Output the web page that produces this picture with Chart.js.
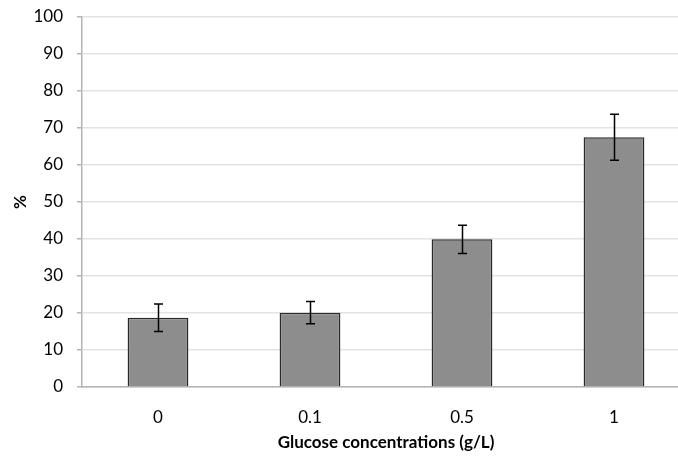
<!DOCTYPE html>
<html>
<head>
<meta charset="utf-8">
<script src="https://cdn.jsdelivr.net/npm/chart.js@4"></script>
<style>
  html, body { margin: 0; padding: 0; background: #fff; overflow: hidden; }
  canvas { display: block; }
</style>
</head>
<body>
<canvas id="chart" width="692" height="459"></canvas>
<script>
const categories = ['0', '0.1', '0.5', '1'];
const percent = [18.7, 20.1, 39.9, 67.5];
const errors = [3.7, 3.0, 3.8, 6.2];

// whiskers drawn on top of each bar, +/- error
const errorBars = {
    id: 'errorBars',
    afterDatasetsDraw(chart){
        const ctx = chart.ctx
        const yScale = chart.scales.y
        const meta = chart.getDatasetMeta(0)
        ctx.save()
        ctx.strokeStyle = '#000'
        ctx.lineWidth = 1.5
        meta.data.forEach((bar, i) => {
            const x = Math.round(bar.x) + 0.5
            const top = yScale.getPixelForValue(percent[i] + errors[i])
            const bottom = yScale.getPixelForValue(percent[i] - errors[i])
            ctx.beginPath()
            ctx.moveTo(x, top); ctx.lineTo(x, bottom)
            ctx.moveTo(x - 4.5, top); ctx.lineTo(x + 4.5, top)
            ctx.moveTo(x - 4.5, bottom); ctx.lineTo(x + 4.5, bottom)
            ctx.stroke()
        })
        ctx.restore()
    }
}

Chart.defaults.font.family = 'Lato, "Open Sans", sans-serif';
Chart.defaults.color = '#000';

new Chart('chart', {
    type: 'bar',
    data: {
        labels: categories,
        datasets: [{
            data: percent,
            backgroundColor: '#8d8d8d',
            borderColor: '#2a2a2a',
            borderWidth: 1.5,
            barPercentage: 0.4,
            categoryPercentage: 1
        }]
    },
    options: {
        responsive: false,
        animation: false,
        layout: { padding: { top: 17, right: 2, bottom: 6, left: 0 } },
        plugins: {
            legend: { display: false },
            tooltip: { enabled: false }
        },
        scales: {
            x: {
                grid: { display: false, drawTicks: false },
                border: { color: '#b3b3b3', width: 1.5 },
                ticks: { font: { size: 17 }, padding: 20 },
                title: {
                    display: true,
                    text: 'Glucose concentrations (g/L)',
                    font: { size: 17, weight: 'bold' },
                    padding: { top: 6, bottom: 0 }
                },
                afterFit(scale){ scale.height = 66 }
            },
            y: {
                min: 0,
                max: 100,
                ticks: { stepSize: 10, font: { size: 17 }, padding: 14 },
                grid: { color: '#e3e3e3', lineWidth: 1.5, tickLength: 5, tickColor: '#b3b3b3' },
                border: { color: '#b3b3b3', width: 1.5 },
                title: {
                    display: true,
                    text: '%',
                    font: { size: 17, weight: 'bold' },
                    padding: { top: 10, bottom: 0 }
                },
                afterFit(scale){
                    scale.width = 82
                    // top/bottom already covered by layout padding
                    scale.paddingTop = 0
                    scale.paddingBottom = 0
                }
            }
        }
    },
    plugins: [errorBars]
})
</script>
</body>
</html>
